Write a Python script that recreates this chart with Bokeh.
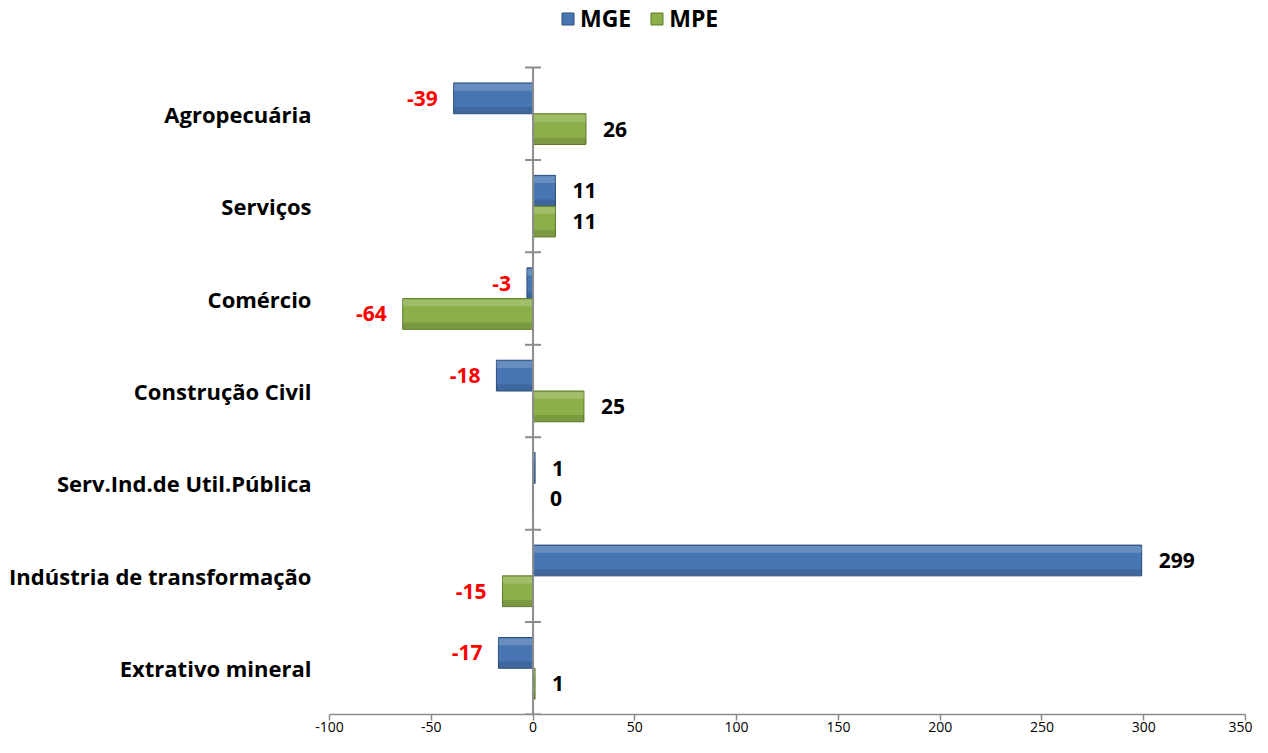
from bokeh.plotting import figure
from bokeh.models import ColumnDataSource, FixedTicker, Legend, LegendItem, Range1d
from bokeh.core.properties import value
from bokeh.embed import file_html
from bokeh.resources import INLINE

categories = ["Agropecuária", "Serviços", "Comércio", "Construção Civil",
              "Serv.Ind.de Util.Pública", "Indústria de transformação", "Extrativo mineral"]
mge = [-39, 11, -3, -18, 1, 299, -17]
mpe = [26, 11, -64, 25, 0, -15, 1]
x_ticks = [-100, -50, 0, 50, 100, 150, 200, 250, 300, 350]

FONT = "Open Sans"
n = len(categories)
centers = [n - k - 0.5 for k in range(n)]
bw = 0.333
top_pad = 0.725  # room above the categories for the legend

def src(vals, off):
    return ColumnDataSource(dict(
        y=[c + off for c in centers], v=vals,
        yh=[c + off + bw * 0.36 for c in centers],
        ys=[c + off - bw * 0.38 for c in centers],
        lab=[str(v) for v in vals],
        col=["#FF0000" if v < 0 else "#000000" for v in vals],
        align=["right" if v < 0 else "left" for v in vals],
        xo=[-16 if v < 0 else 17 for v in vals],
    ))

s_mge = src(mge, bw / 2)
s_mpe = src(mpe, -bw / 2)

p = figure(width=1252, height=737, output_backend="svg", toolbar_location=None,
           x_range=Range1d(-100, 350), y_range=Range1d(0, n + top_pad),
           min_border_left=329, min_border_right=7, min_border_top=0, min_border_bottom=23)
p.outline_line_color = None
p.xgrid.visible = False
p.ygrid.visible = False

r1 = p.hbar(y="y", left=0, right="v", height=bw, source=s_mge,
            fill_color="#4776B3", line_color="#2C4D7A", line_width=1)
r2 = p.hbar(y="y", left=0, right="v", height=bw, source=s_mpe,
            fill_color="#8CAF4A", line_color="#5E7A2A", line_width=1)
# bevel-like highlight and shade bands
for s in (s_mge, s_mpe):
    p.hbar(y="yh", left=0, right="v", height=bw * 0.22, source=s,
           fill_color="white", fill_alpha=0.18, line_color=None)
    p.hbar(y="ys", left=0, right="v", height=bw * 0.2, source=s,
           fill_color="black", fill_alpha=0.12, line_color=None)

# vertical axis line at zero with category separators
p.segment(x0=[0], y0=[0], x1=[0], y1=[n], line_color="#8C8C8C", line_width=2)
p.scatter(x=[0] * (n + 1), y=list(range(n + 1)), marker="dash", size=16,
          line_color="#8C8C8C", line_width=2)

for s in (s_mge, s_mpe):
    p.text(x="v", y="y", text="lab", text_color="col", text_align="align",
           x_offset="xo", text_baseline="middle", text_font=value(FONT),
           text_font_style="bold", text_font_size="21px", source=s)

xa = p.xaxis[0]
xa.ticker = FixedTicker(ticks=x_ticks)
xa.major_label_overrides = {t: str(t) for t in x_ticks}
xa.minor_tick_line_color = None
xa.major_tick_in = 0
xa.major_tick_out = 6
xa.axis_line_color = "#8C8C8C"
xa.major_tick_line_color = "#8C8C8C"
xa.axis_line_width = 1.5
xa.major_tick_line_width = 1.5
xa.major_label_text_font = FONT
xa.major_label_text_font_size = "14px"
xa.major_label_standoff = 1
xa.major_label_text_color = "#000000"

ya = p.yaxis[0]
ya.ticker = FixedTicker(ticks=centers)
ya.major_label_overrides = {c: categories[k] for k, c in enumerate(centers)}
ya.axis_line_color = None
ya.major_tick_line_color = None
ya.minor_tick_line_color = None
ya.major_tick_in = 0
ya.major_tick_out = 0
ya.major_label_standoff = 18
ya.major_label_text_font = FONT
ya.major_label_text_font_style = "bold"
ya.major_label_text_font_size = "22px"
ya.major_label_text_color = "#000000"

legend = Legend(items=[LegendItem(label="MGE", renderers=[r1]),
                       LegendItem(label="MPE", renderers=[r2])],
                orientation="horizontal", location=(231, 680),
                label_text_font=FONT, label_text_font_style="bold",
                label_text_font_size="23px", label_text_color="#000000",
                glyph_width=15, glyph_height=15,
                label_standoff=5, spacing=18, padding=0, margin=0,
                border_line_color=None, background_fill_alpha=0)
p.add_layout(legend)

open("out.html", "w").write(file_html(p, INLINE))
